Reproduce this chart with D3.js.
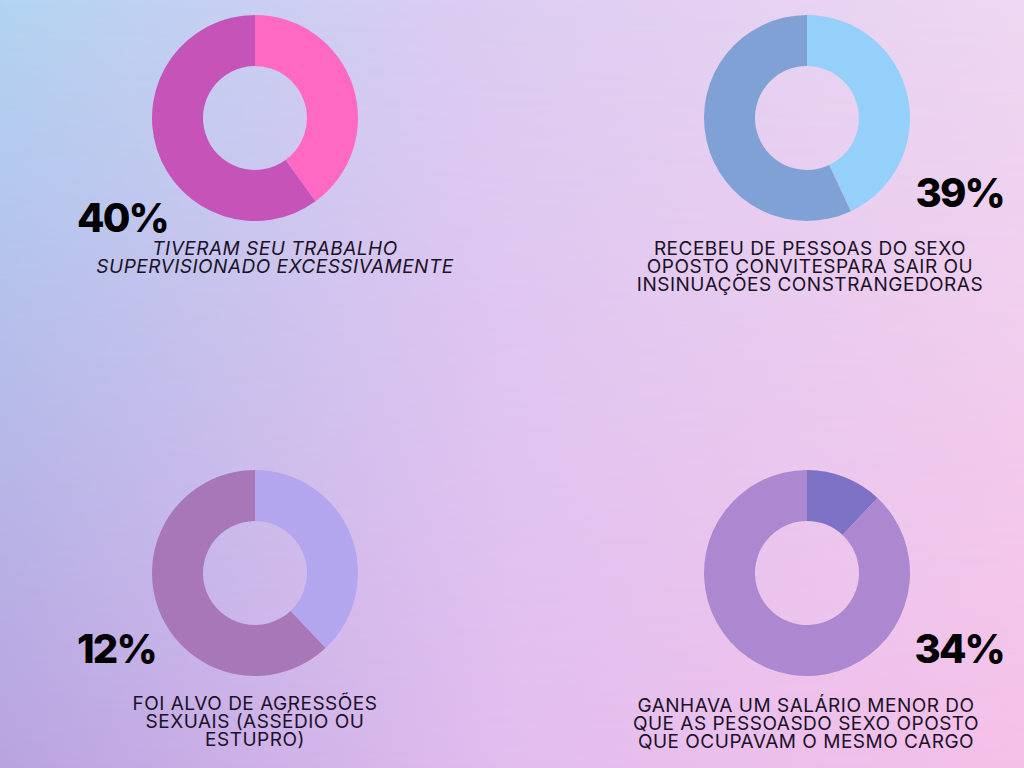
<!DOCTYPE html>
<html>
<head>
<meta charset="utf-8">
<script src="https://cdn.jsdelivr.net/npm/d3@7"></script>
<style>
  html, body { margin: 0; padding: 0; width: 1024px; height: 768px; overflow: hidden; }
  svg { display: block; }
</style>
</head>
<body>
<svg id="chart" width="1024" height="768"></svg>
<script>
// ---- data ----
const percentLabels = ["40%", "39%", "12%", "34%"];
const highlightShare = [40, 43, 38, 12];
const restShare = [60, 57, 62, 88];
const descriptions = [
  ["TIVERAM SEU TRABALHO", "SUPERVISIONADO EXCESSIVAMENTE"],
  ["RECEBEU DE PESSOAS DO SEXO", "OPOSTO CONVITESPARA SAIR OU", "INSINUAÇÕES CONSTRANGEDORAS"],
  ["FOI ALVO DE AGRESSÕES", "SEXUAIS (ASSÉDIO OU", "ESTUPRO)"],
  ["GANHAVA UM SALÁRIO MENOR DO", "QUE AS PESSOASDO SEXO OPOSTO", "QUE OCUPAVAM O MESMO CARGO"]
];

// ---- styles / layout ----
const highlightColors = ["#ff69c4", "#94d0fa", "#b3a6ef", "#7e72c6"];
const restColors = ["#c553b8", "#80a1d6", "#a877b8", "#ab88cf"];
const panels = [
  { cx: 255, cy: 118, pctX: 77, pctY: 232, pctAnchor: "start", textX: 275, textY: 255, italic: true },
  { cx: 807, cy: 118, pctX: 1004, pctY: 207, pctAnchor: "end", textX: 810, textY: 255, italic: false },
  { cx: 255, cy: 573, pctX: 77, pctY: 663, pctAnchor: "start", textX: 255, textY: 710, italic: false },
  { cx: 807, cy: 573, pctX: 1004, pctY: 663, pctAnchor: "end", textX: 806, textY: 712, italic: false }
];

const svg = d3.select("#chart");
const defs = svg.append("defs");

// bilinear background: top gradient + bottom gradient faded in with a vertical mask
const topG = defs.append("linearGradient").attr("id", "topG").attr("x1", 0).attr("x2", 1).attr("y1", 0).attr("y2", 0);
topG.append("stop").attr("offset", "0%").attr("stop-color", "#b2d4f2");
topG.append("stop").attr("offset", "45%").attr("stop-color", "#dcccf2");
topG.append("stop").attr("offset", "100%").attr("stop-color", "#eed8f2");
const botG = defs.append("linearGradient").attr("id", "botG").attr("x1", 0).attr("x2", 1).attr("y1", 0).attr("y2", 0);
botG.append("stop").attr("offset", "0%").attr("stop-color", "#b9a3e0");
botG.append("stop").attr("offset", "50%").attr("stop-color", "#e2bdee");
botG.append("stop").attr("offset", "100%").attr("stop-color", "#f5c0e8");
const vG = defs.append("linearGradient").attr("id", "vG").attr("x1", 0).attr("x2", 0).attr("y1", 0).attr("y2", 1);
vG.append("stop").attr("offset", "0%").attr("stop-color", "#fff").attr("stop-opacity", 0);
vG.append("stop").attr("offset", "100%").attr("stop-color", "#fff").attr("stop-opacity", 1);
defs.append("mask").attr("id", "vMask")
  .append("rect").attr("width", 1024).attr("height", 768).attr("fill", "url(#vG)");

svg.append("rect").attr("width", 1024).attr("height", 768).attr("fill", "url(#topG)");
svg.append("rect").attr("width", 1024).attr("height", 768).attr("fill", "url(#botG)").attr("mask", "url(#vMask)");

const pie = d3.pie().sort(null).value(d => d.v);
const arc = d3.arc().innerRadius(52).outerRadius(103);

panels.forEach((p, i) => {
  const data = [
    { v: highlightShare[i], c: highlightColors[i] },
    { v: restShare[i], c: restColors[i] }
  ];
  const g = svg.append("g").attr("transform", `translate(${p.cx},${p.cy})`);
  g.selectAll("path").data(pie(data)).join("path")
    .attr("d", arc)
    .attr("fill", d => d.data.c);

  svg.append("text")
    .attr("x", p.pctX).attr("y", p.pctY)
    .attr("text-anchor", p.pctAnchor)
    .attr("font-family", "Inter, 'Open Sans', sans-serif")
    .attr("font-weight", 800)
    .attr("font-size", 40)
    .attr("letter-spacing", -1.8)
    .attr("fill", "#000")
    .text(percentLabels[i]);

  const t = svg.append("text")
    .attr("text-anchor", "middle")
    .attr("font-family", "Inter, 'Open Sans', sans-serif")
    .attr("font-size", 19)
    .attr("letter-spacing", 0.5)
    .attr("font-style", p.italic ? "italic" : "normal")
    .attr("fill", "#1a1228");
  descriptions[i].forEach((line, k) => {
    t.append("tspan").attr("x", p.textX).attr("y", p.textY + k * 18).text(line);
  });
});
</script>
</body>
</html>
